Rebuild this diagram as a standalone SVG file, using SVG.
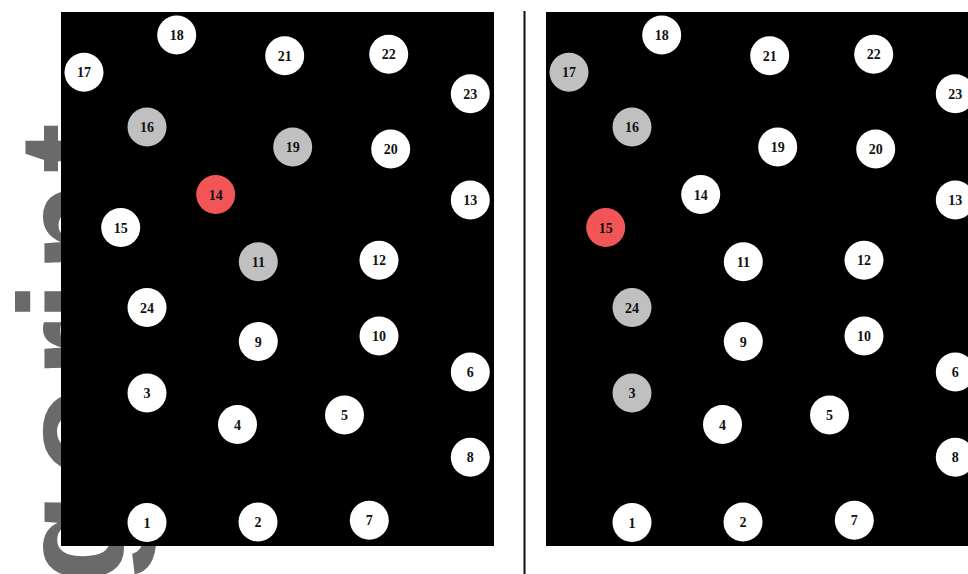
<svg xmlns="http://www.w3.org/2000/svg" width="968" height="574" viewBox="0 0 968 574">
<style>
.wm{font-family:"Liberation Sans",Arial,sans-serif;font-weight:700;font-size:150px;fill:#6a6a6a;text-anchor:middle}
.panel{fill:#000}
.n circle{fill:#fff}
.n.g circle{fill:#c0c0c0}
.n.r circle{fill:#f25555}
.n text{font-family:"Liberation Serif","Times New Roman",serif;font-weight:700;font-size:14px;fill:#111;text-anchor:middle}
</style>
<rect width="968" height="574" fill="#fff"/>
<text class="wm" transform="rotate(-90)" y="124"><tspan x="-538">g</tspan><tspan x="-432">o</tspan><tspan x="-349">r</tspan><tspan x="-301.5">i</tspan><tspan x="-227">n</tspan><tspan x="-148">t</tspan></text>
<line x1="524.5" y1="11" x2="524.5" y2="574" stroke="#111" stroke-width="2"/>
<g id="left-panel">
<rect class="panel" x="61" y="12" width="433" height="534"/>
<g id="L17" class="n"><circle cx="84" cy="72.3" r="19.5"/><text x="84" y="77.3">17</text></g>
<g id="L18" class="n"><circle cx="176.7" cy="35" r="19.5"/><text x="176.7" y="40">18</text></g>
<g id="L21" class="n"><circle cx="284.7" cy="55.7" r="19.5"/><text x="284.7" y="60.7">21</text></g>
<g id="L22" class="n"><circle cx="388.7" cy="54.3" r="19.5"/><text x="388.7" y="59.3">22</text></g>
<g id="L23" class="n"><circle cx="470.3" cy="93.7" r="19.5"/><text x="470.3" y="98.7">23</text></g>
<g id="L16" class="n g"><circle cx="147" cy="127" r="19.5"/><text x="147" y="132">16</text></g>
<g id="L19" class="n g"><circle cx="292.7" cy="147" r="19.5"/><text x="292.7" y="152">19</text></g>
<g id="L20" class="n"><circle cx="390.7" cy="149" r="19.5"/><text x="390.7" y="154">20</text></g>
<g id="L14" class="n r"><circle cx="215.7" cy="194.5" r="19.5"/><text x="215.7" y="199.5">14</text></g>
<g id="L13" class="n"><circle cx="470.3" cy="200" r="19.5"/><text x="470.3" y="205">13</text></g>
<g id="L15" class="n"><circle cx="120.7" cy="227.5" r="19.5"/><text x="120.7" y="232.5">15</text></g>
<g id="L11" class="n g"><circle cx="258.3" cy="261.7" r="19.5"/><text x="258.3" y="266.7">11</text></g>
<g id="L12" class="n"><circle cx="379" cy="260.3" r="19.5"/><text x="379" y="265.3">12</text></g>
<g id="L24" class="n"><circle cx="147" cy="307.5" r="19.5"/><text x="147" y="312.5">24</text></g>
<g id="L9" class="n"><circle cx="258.3" cy="341.5" r="19.5"/><text x="258.3" y="346.5">9</text></g>
<g id="L10" class="n"><circle cx="379" cy="336" r="19.5"/><text x="379" y="341">10</text></g>
<g id="L6" class="n"><circle cx="470.3" cy="372" r="19.5"/><text x="470.3" y="377">6</text></g>
<g id="L3" class="n"><circle cx="147" cy="393" r="19.5"/><text x="147" y="398">3</text></g>
<g id="L4" class="n"><circle cx="237.5" cy="424.5" r="19.5"/><text x="237.5" y="429.5">4</text></g>
<g id="L5" class="n"><circle cx="344.5" cy="415" r="19.5"/><text x="344.5" y="420">5</text></g>
<g id="L8" class="n"><circle cx="470.3" cy="457.3" r="19.5"/><text x="470.3" y="462.3">8</text></g>
<g id="L1" class="n"><circle cx="147" cy="522.5" r="19.5"/><text x="147" y="527.5">1</text></g>
<g id="L2" class="n"><circle cx="258" cy="522" r="19.5"/><text x="258" y="527">2</text></g>
<g id="L7" class="n"><circle cx="369.3" cy="520.3" r="19.5"/><text x="369.3" y="525.3">7</text></g>
</g>
<g id="right-panel" transform="translate(485,0)">
<rect class="panel" x="61" y="12" width="433" height="534"/>
<g id="R17" class="n g"><circle cx="84" cy="72.3" r="19.5"/><text x="84" y="77.3">17</text></g>
<g id="R18" class="n"><circle cx="176.7" cy="35" r="19.5"/><text x="176.7" y="40">18</text></g>
<g id="R21" class="n"><circle cx="284.7" cy="55.7" r="19.5"/><text x="284.7" y="60.7">21</text></g>
<g id="R22" class="n"><circle cx="388.7" cy="54.3" r="19.5"/><text x="388.7" y="59.3">22</text></g>
<g id="R23" class="n"><circle cx="470.3" cy="93.7" r="19.5"/><text x="470.3" y="98.7">23</text></g>
<g id="R16" class="n g"><circle cx="147" cy="127" r="19.5"/><text x="147" y="132">16</text></g>
<g id="R19" class="n"><circle cx="292.7" cy="147" r="19.5"/><text x="292.7" y="152">19</text></g>
<g id="R20" class="n"><circle cx="390.7" cy="149" r="19.5"/><text x="390.7" y="154">20</text></g>
<g id="R14" class="n"><circle cx="215.7" cy="194.5" r="19.5"/><text x="215.7" y="199.5">14</text></g>
<g id="R13" class="n"><circle cx="470.3" cy="200" r="19.5"/><text x="470.3" y="205">13</text></g>
<g id="R15" class="n r"><circle cx="120.7" cy="227.5" r="19.5"/><text x="120.7" y="232.5">15</text></g>
<g id="R11" class="n"><circle cx="258.3" cy="261.7" r="19.5"/><text x="258.3" y="266.7">11</text></g>
<g id="R12" class="n"><circle cx="379" cy="260.3" r="19.5"/><text x="379" y="265.3">12</text></g>
<g id="R24" class="n g"><circle cx="147" cy="307.5" r="19.5"/><text x="147" y="312.5">24</text></g>
<g id="R9" class="n"><circle cx="258.3" cy="341.5" r="19.5"/><text x="258.3" y="346.5">9</text></g>
<g id="R10" class="n"><circle cx="379" cy="336" r="19.5"/><text x="379" y="341">10</text></g>
<g id="R6" class="n"><circle cx="470.3" cy="372" r="19.5"/><text x="470.3" y="377">6</text></g>
<g id="R3" class="n g"><circle cx="147" cy="393" r="19.5"/><text x="147" y="398">3</text></g>
<g id="R4" class="n"><circle cx="237.5" cy="424.5" r="19.5"/><text x="237.5" y="429.5">4</text></g>
<g id="R5" class="n"><circle cx="344.5" cy="415" r="19.5"/><text x="344.5" y="420">5</text></g>
<g id="R8" class="n"><circle cx="470.3" cy="457.3" r="19.5"/><text x="470.3" y="462.3">8</text></g>
<g id="R1" class="n"><circle cx="147" cy="522.5" r="19.5"/><text x="147" y="527.5">1</text></g>
<g id="R2" class="n"><circle cx="258" cy="522" r="19.5"/><text x="258" y="527">2</text></g>
<g id="R7" class="n"><circle cx="369.3" cy="520.3" r="19.5"/><text x="369.3" y="525.3">7</text></g>
</g>
<g id="connectors"/>
</svg>
